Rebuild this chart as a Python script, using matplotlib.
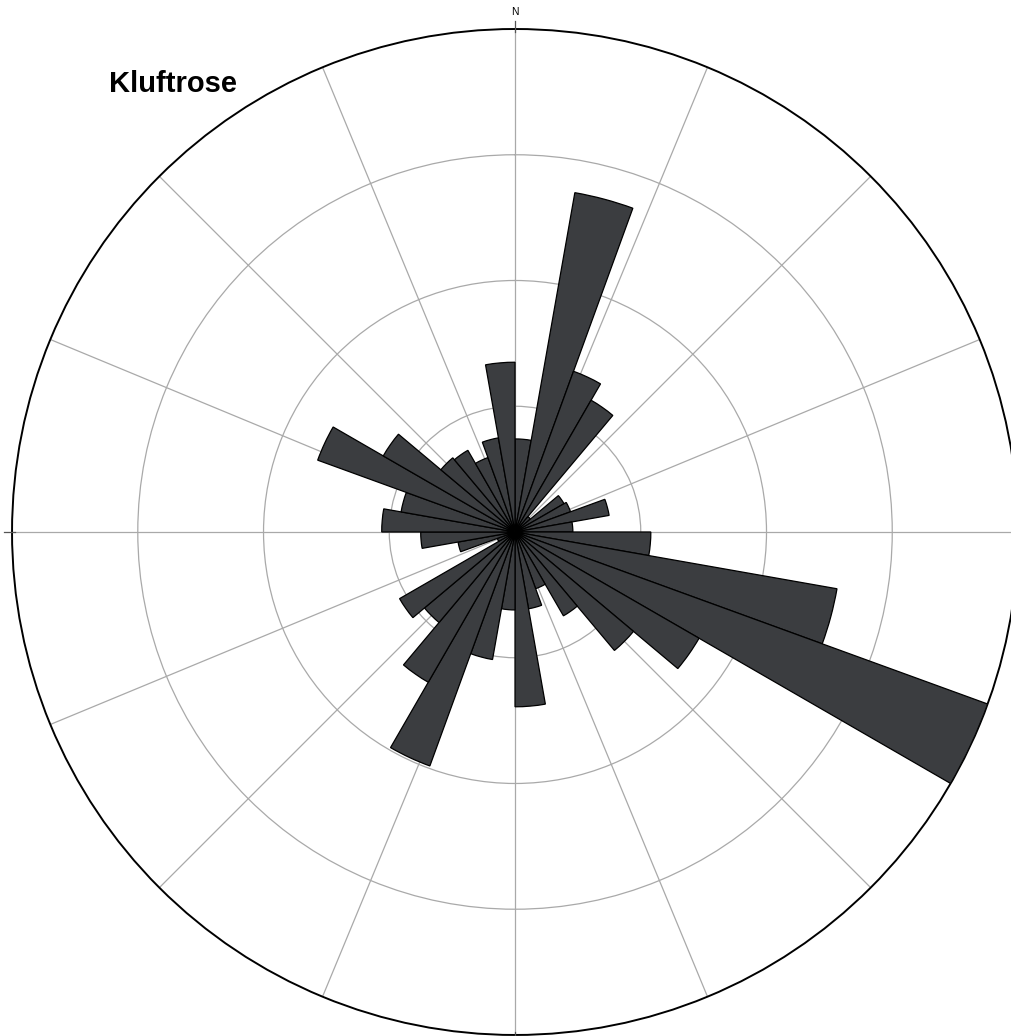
import numpy as np
import matplotlib
matplotlib.use("Agg")
import matplotlib.pyplot as plt

# 10-degree direction bins (azimuth start, degrees clockwise from N)
bin_start_deg = list(range(0, 360, 10))
# relative frequencies (ring units; rings at 1, 2, 3, outer circle = 4)
freq = [0.74, 2.74, 1.36, 1.21, 0.16, 0.45, 0.47, 0.76, 0.46,   # 0-90
        1.08, 2.60, 4.00, 1.69, 1.23, 0.77, 0.48, 0.62, 1.39,   # 90-180
        0.62, 1.03, 1.98, 1.38, 0.94, 1.06, 0.15, 0.46, 0.75,   # 180-270
        1.06, 0.92, 1.67, 1.21, 0.77, 0.75, 0.63, 0.76, 1.35]   # 270-360
bin_width_deg = 10
ring_values = [1, 2, 3]
r_max = 4
spoke_deg = [i * 22.5 for i in range(16)]
title = "Kluftrose"
north_label = "N"

plt.rcParams['font.family'] = ['Liberation Sans', 'DejaVu Sans']

fig = plt.figure(figsize=(10.12, 10.36), dpi=100)
ax = fig.add_axes([0.01186, 0.001, 0.9941, 0.971], projection='polar')
ax.set_theta_zero_location('N')
ax.set_theta_direction(-1)
ax.set_axisbelow(True)

theta = np.deg2rad(bin_start_deg)
ax.bar(theta, freq, width=np.deg2rad(bin_width_deg), bottom=0.0, align='edge',
       color='#3b3d40', edgecolor='black', linewidth=0.9, zorder=3)

ax.set_ylim(0, r_max)
ax.set_yticks(ring_values)
ax.set_yticklabels([])
ax.set_xticks(np.deg2rad(spoke_deg))
ax.set_xticklabels([])
ax.tick_params(length=0)
ax.grid(True, color='#a9a9a9', linewidth=0.9)
ax.spines['polar'].set_linewidth(1.4)
ax.spines['polar'].set_color('black')

# small ticks at the four cardinal directions, beyond the outer circle
for d in [0, 90, 180, 270]:
    ax.plot([np.deg2rad(d)] * 2, [r_max * 0.995, r_max * 1.015], color='#555555',
            linewidth=0.9, clip_on=False, zorder=4)

ax.text(0, r_max * 1.024, north_label, ha='center', va='bottom', fontsize=7.5,
        transform=ax.transData, clip_on=False)

fig.text(109 / 1012, 1 - 92 / 1036, title, fontsize=21, fontweight='bold',
         ha='left', va='baseline')

fig.savefig("out.png", dpi=100)
